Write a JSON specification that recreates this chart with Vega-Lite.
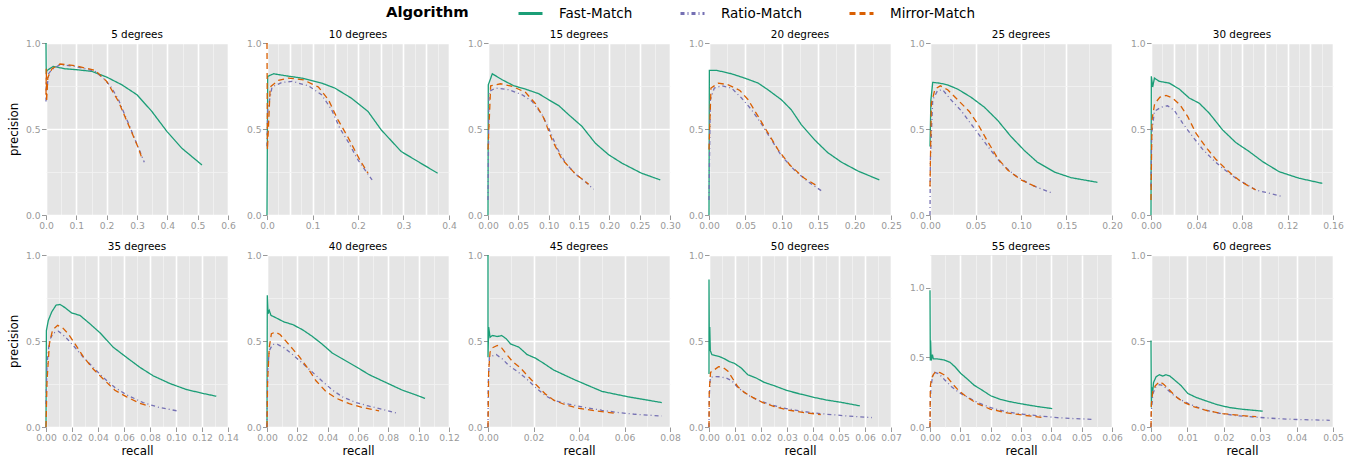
{
"$schema":"https://vega.github.io/schema/vega-lite/v6.json",
"padding":{"left":8,"top":0,"right":5,"bottom":5},
"data":{"values":[
{"deg":5,"alg":"Fast-Match","i":0,"recall":0,"precision":1},
{"deg":5,"alg":"Fast-Match","i":1,"recall":0.0005,"precision":0.87},
{"deg":5,"alg":"Fast-Match","i":2,"recall":0.001,"precision":0.82},
{"deg":5,"alg":"Fast-Match","i":3,"recall":0.003,"precision":0.84},
{"deg":5,"alg":"Fast-Match","i":4,"recall":0.024,"precision":0.864},
{"deg":5,"alg":"Fast-Match","i":5,"recall":0.063,"precision":0.85},
{"deg":5,"alg":"Fast-Match","i":6,"recall":0.1,"precision":0.845},
{"deg":5,"alg":"Fast-Match","i":7,"recall":0.151,"precision":0.835},
{"deg":5,"alg":"Fast-Match","i":8,"recall":0.2,"precision":0.802},
{"deg":5,"alg":"Fast-Match","i":9,"recall":0.25,"precision":0.757},
{"deg":5,"alg":"Fast-Match","i":10,"recall":0.3,"precision":0.699},
{"deg":5,"alg":"Fast-Match","i":11,"recall":0.349,"precision":0.602},
{"deg":5,"alg":"Fast-Match","i":12,"recall":0.399,"precision":0.485},
{"deg":5,"alg":"Fast-Match","i":13,"recall":0.448,"precision":0.388},
{"deg":5,"alg":"Fast-Match","i":14,"recall":0.514,"precision":0.291},
{"deg":5,"alg":"Ratio-Match","i":0,"recall":0,"precision":0.66},
{"deg":5,"alg":"Ratio-Match","i":1,"recall":0.001,"precision":0.8},
{"deg":5,"alg":"Ratio-Match","i":2,"recall":0.003,"precision":0.72},
{"deg":5,"alg":"Ratio-Match","i":3,"recall":0.008,"precision":0.82},
{"deg":5,"alg":"Ratio-Match","i":4,"recall":0.019,"precision":0.845},
{"deg":5,"alg":"Ratio-Match","i":5,"recall":0.046,"precision":0.874},
{"deg":5,"alg":"Ratio-Match","i":6,"recall":0.096,"precision":0.864},
{"deg":5,"alg":"Ratio-Match","i":7,"recall":0.162,"precision":0.835},
{"deg":5,"alg":"Ratio-Match","i":8,"recall":0.195,"precision":0.786},
{"deg":5,"alg":"Ratio-Match","i":9,"recall":0.217,"precision":0.738},
{"deg":5,"alg":"Ratio-Match","i":10,"recall":0.239,"precision":0.67},
{"deg":5,"alg":"Ratio-Match","i":11,"recall":0.267,"precision":0.553},
{"deg":5,"alg":"Ratio-Match","i":12,"recall":0.294,"precision":0.437},
{"deg":5,"alg":"Ratio-Match","i":13,"recall":0.324,"precision":0.307},
{"deg":5,"alg":"Mirror-Match","i":0,"recall":0,"precision":0.7},
{"deg":5,"alg":"Mirror-Match","i":1,"recall":0.001,"precision":0.85},
{"deg":5,"alg":"Mirror-Match","i":2,"recall":0.002,"precision":0.66},
{"deg":5,"alg":"Mirror-Match","i":3,"recall":0.006,"precision":0.8},
{"deg":5,"alg":"Mirror-Match","i":4,"recall":0.02,"precision":0.85},
{"deg":5,"alg":"Mirror-Match","i":5,"recall":0.046,"precision":0.878},
{"deg":5,"alg":"Mirror-Match","i":6,"recall":0.096,"precision":0.868},
{"deg":5,"alg":"Mirror-Match","i":7,"recall":0.162,"precision":0.841},
{"deg":5,"alg":"Mirror-Match","i":8,"recall":0.2,"precision":0.777},
{"deg":5,"alg":"Mirror-Match","i":9,"recall":0.239,"precision":0.66},
{"deg":5,"alg":"Mirror-Match","i":10,"recall":0.272,"precision":0.524},
{"deg":5,"alg":"Mirror-Match","i":11,"recall":0.305,"precision":0.388},
{"deg":5,"alg":"Mirror-Match","i":12,"recall":0.318,"precision":0.32},
{"deg":10,"alg":"Fast-Match","i":0,"recall":0,"precision":0},
{"deg":10,"alg":"Fast-Match","i":1,"recall":0.0015,"precision":0.806},
{"deg":10,"alg":"Fast-Match","i":2,"recall":0.0145,"precision":0.821},
{"deg":10,"alg":"Fast-Match","i":3,"recall":0.04,"precision":0.81},
{"deg":10,"alg":"Fast-Match","i":4,"recall":0.076,"precision":0.796},
{"deg":10,"alg":"Fast-Match","i":5,"recall":0.12,"precision":0.767},
{"deg":10,"alg":"Fast-Match","i":6,"recall":0.149,"precision":0.738},
{"deg":10,"alg":"Fast-Match","i":7,"recall":0.185,"precision":0.68},
{"deg":10,"alg":"Fast-Match","i":8,"recall":0.222,"precision":0.602},
{"deg":10,"alg":"Fast-Match","i":9,"recall":0.251,"precision":0.495},
{"deg":10,"alg":"Fast-Match","i":10,"recall":0.295,"precision":0.369},
{"deg":10,"alg":"Fast-Match","i":11,"recall":0.338,"precision":0.301},
{"deg":10,"alg":"Fast-Match","i":12,"recall":0.375,"precision":0.243},
{"deg":10,"alg":"Ratio-Match","i":0,"recall":0,"precision":0.4},
{"deg":10,"alg":"Ratio-Match","i":1,"recall":0.0015,"precision":0.61},
{"deg":10,"alg":"Ratio-Match","i":2,"recall":0.011,"precision":0.744},
{"deg":10,"alg":"Ratio-Match","i":3,"recall":0.033,"precision":0.771},
{"deg":10,"alg":"Ratio-Match","i":4,"recall":0.055,"precision":0.777},
{"deg":10,"alg":"Ratio-Match","i":5,"recall":0.091,"precision":0.751},
{"deg":10,"alg":"Ratio-Match","i":6,"recall":0.12,"precision":0.699},
{"deg":10,"alg":"Ratio-Match","i":7,"recall":0.142,"precision":0.612},
{"deg":10,"alg":"Ratio-Match","i":8,"recall":0.16,"precision":0.505},
{"deg":10,"alg":"Ratio-Match","i":9,"recall":0.178,"precision":0.427},
{"deg":10,"alg":"Ratio-Match","i":10,"recall":0.2,"precision":0.32},
{"deg":10,"alg":"Ratio-Match","i":11,"recall":0.231,"precision":0.204},
{"deg":10,"alg":"Mirror-Match","i":0,"recall":0,"precision":1},
{"deg":10,"alg":"Mirror-Match","i":1,"recall":0.001,"precision":0.379},
{"deg":10,"alg":"Mirror-Match","i":2,"recall":0.007,"precision":0.744},
{"deg":10,"alg":"Mirror-Match","i":3,"recall":0.025,"precision":0.783},
{"deg":10,"alg":"Mirror-Match","i":4,"recall":0.047,"precision":0.796},
{"deg":10,"alg":"Mirror-Match","i":5,"recall":0.08,"precision":0.786},
{"deg":10,"alg":"Mirror-Match","i":6,"recall":0.113,"precision":0.744},
{"deg":10,"alg":"Mirror-Match","i":7,"recall":0.135,"precision":0.67},
{"deg":10,"alg":"Mirror-Match","i":8,"recall":0.156,"precision":0.553},
{"deg":10,"alg":"Mirror-Match","i":9,"recall":0.178,"precision":0.452},
{"deg":10,"alg":"Mirror-Match","i":10,"recall":0.204,"precision":0.32},
{"deg":10,"alg":"Mirror-Match","i":11,"recall":0.222,"precision":0.243},
{"deg":15,"alg":"Fast-Match","i":0,"recall":0,"precision":0},
{"deg":15,"alg":"Fast-Match","i":1,"recall":0.0005,"precision":0.757},
{"deg":15,"alg":"Fast-Match","i":2,"recall":0.0071,"precision":0.821},
{"deg":15,"alg":"Fast-Match","i":3,"recall":0.0235,"precision":0.786},
{"deg":15,"alg":"Fast-Match","i":4,"recall":0.0427,"precision":0.751},
{"deg":15,"alg":"Fast-Match","i":5,"recall":0.0618,"precision":0.732},
{"deg":15,"alg":"Fast-Match","i":6,"recall":0.0837,"precision":0.705},
{"deg":15,"alg":"Fast-Match","i":7,"recall":0.1,"precision":0.67},
{"deg":15,"alg":"Fast-Match","i":8,"recall":0.117,"precision":0.635},
{"deg":15,"alg":"Fast-Match","i":9,"recall":0.133,"precision":0.583},
{"deg":15,"alg":"Fast-Match","i":10,"recall":0.155,"precision":0.515},
{"deg":15,"alg":"Fast-Match","i":11,"recall":0.177,"precision":0.417},
{"deg":15,"alg":"Fast-Match","i":12,"recall":0.199,"precision":0.35},
{"deg":15,"alg":"Fast-Match","i":13,"recall":0.221,"precision":0.301},
{"deg":15,"alg":"Fast-Match","i":14,"recall":0.253,"precision":0.243},
{"deg":15,"alg":"Fast-Match","i":15,"recall":0.284,"precision":0.204},
{"deg":15,"alg":"Ratio-Match","i":0,"recall":0,"precision":0.087},
{"deg":15,"alg":"Ratio-Match","i":1,"recall":0.0016,"precision":0.718},
{"deg":15,"alg":"Ratio-Match","i":2,"recall":0.0126,"precision":0.738},
{"deg":15,"alg":"Ratio-Match","i":3,"recall":0.0345,"precision":0.728},
{"deg":15,"alg":"Ratio-Match","i":4,"recall":0.0564,"precision":0.699},
{"deg":15,"alg":"Ratio-Match","i":5,"recall":0.0728,"precision":0.66},
{"deg":15,"alg":"Ratio-Match","i":6,"recall":0.0892,"precision":0.583},
{"deg":15,"alg":"Ratio-Match","i":7,"recall":0.1,"precision":0.505},
{"deg":15,"alg":"Ratio-Match","i":8,"recall":0.114,"precision":0.388},
{"deg":15,"alg":"Ratio-Match","i":9,"recall":0.128,"precision":0.301},
{"deg":15,"alg":"Ratio-Match","i":10,"recall":0.144,"precision":0.239},
{"deg":15,"alg":"Ratio-Match","i":11,"recall":0.16,"precision":0.194},
{"deg":15,"alg":"Ratio-Match","i":12,"recall":0.174,"precision":0.15},
{"deg":15,"alg":"Mirror-Match","i":0,"recall":0,"precision":0.38},
{"deg":15,"alg":"Mirror-Match","i":1,"recall":0.0044,"precision":0.751},
{"deg":15,"alg":"Mirror-Match","i":2,"recall":0.0208,"precision":0.763},
{"deg":15,"alg":"Mirror-Match","i":3,"recall":0.04,"precision":0.748},
{"deg":15,"alg":"Mirror-Match","i":4,"recall":0.0618,"precision":0.713},
{"deg":15,"alg":"Mirror-Match","i":5,"recall":0.0783,"precision":0.647},
{"deg":15,"alg":"Mirror-Match","i":6,"recall":0.092,"precision":0.563},
{"deg":15,"alg":"Mirror-Match","i":7,"recall":0.1056,"precision":0.437},
{"deg":15,"alg":"Mirror-Match","i":8,"recall":0.122,"precision":0.324},
{"deg":15,"alg":"Mirror-Match","i":9,"recall":0.144,"precision":0.239},
{"deg":15,"alg":"Mirror-Match","i":10,"recall":0.166,"precision":0.179},
{"deg":20,"alg":"Fast-Match","i":0,"recall":0,"precision":0},
{"deg":20,"alg":"Fast-Match","i":1,"recall":0.0005,"precision":0.841},
{"deg":20,"alg":"Fast-Match","i":2,"recall":0.0105,"precision":0.841},
{"deg":20,"alg":"Fast-Match","i":3,"recall":0.031,"precision":0.821},
{"deg":20,"alg":"Fast-Match","i":4,"recall":0.049,"precision":0.796},
{"deg":20,"alg":"Fast-Match","i":5,"recall":0.0675,"precision":0.767},
{"deg":20,"alg":"Fast-Match","i":6,"recall":0.081,"precision":0.728},
{"deg":20,"alg":"Fast-Match","i":7,"recall":0.0995,"precision":0.67},
{"deg":20,"alg":"Fast-Match","i":8,"recall":0.113,"precision":0.612},
{"deg":20,"alg":"Fast-Match","i":9,"recall":0.127,"precision":0.524},
{"deg":20,"alg":"Fast-Match","i":10,"recall":0.145,"precision":0.437},
{"deg":20,"alg":"Fast-Match","i":11,"recall":0.163,"precision":0.363},
{"deg":20,"alg":"Fast-Match","i":12,"recall":0.182,"precision":0.307},
{"deg":20,"alg":"Fast-Match","i":13,"recall":0.205,"precision":0.255},
{"deg":20,"alg":"Fast-Match","i":14,"recall":0.234,"precision":0.204},
{"deg":20,"alg":"Ratio-Match","i":0,"recall":0,"precision":0.087},
{"deg":20,"alg":"Ratio-Match","i":1,"recall":0.0018,"precision":0.67},
{"deg":20,"alg":"Ratio-Match","i":2,"recall":0.0073,"precision":0.738},
{"deg":20,"alg":"Ratio-Match","i":3,"recall":0.0173,"precision":0.751},
{"deg":20,"alg":"Ratio-Match","i":4,"recall":0.031,"precision":0.738},
{"deg":20,"alg":"Ratio-Match","i":5,"recall":0.0447,"precision":0.68},
{"deg":20,"alg":"Ratio-Match","i":6,"recall":0.0584,"precision":0.612},
{"deg":20,"alg":"Ratio-Match","i":7,"recall":0.072,"precision":0.53},
{"deg":20,"alg":"Ratio-Match","i":8,"recall":0.0858,"precision":0.437},
{"deg":20,"alg":"Ratio-Match","i":9,"recall":0.0995,"precision":0.344},
{"deg":20,"alg":"Ratio-Match","i":10,"recall":0.118,"precision":0.258},
{"deg":20,"alg":"Ratio-Match","i":11,"recall":0.136,"precision":0.194},
{"deg":20,"alg":"Ratio-Match","i":12,"recall":0.156,"precision":0.136},
{"deg":20,"alg":"Mirror-Match","i":0,"recall":0,"precision":0.38},
{"deg":20,"alg":"Mirror-Match","i":1,"recall":0.0027,"precision":0.738},
{"deg":20,"alg":"Mirror-Match","i":2,"recall":0.0128,"precision":0.767},
{"deg":20,"alg":"Mirror-Match","i":3,"recall":0.0265,"precision":0.757},
{"deg":20,"alg":"Mirror-Match","i":4,"recall":0.0424,"precision":0.724},
{"deg":20,"alg":"Mirror-Match","i":5,"recall":0.0538,"precision":0.67},
{"deg":20,"alg":"Mirror-Match","i":6,"recall":0.0675,"precision":0.573},
{"deg":20,"alg":"Mirror-Match","i":7,"recall":0.0812,"precision":0.476},
{"deg":20,"alg":"Mirror-Match","i":8,"recall":0.095,"precision":0.379},
{"deg":20,"alg":"Mirror-Match","i":9,"recall":0.111,"precision":0.291},
{"deg":20,"alg":"Mirror-Match","i":10,"recall":0.131,"precision":0.214},
{"deg":20,"alg":"Mirror-Match","i":11,"recall":0.15,"precision":0.165},
{"deg":25,"alg":"Fast-Match","i":0,"recall":0,"precision":0.398},
{"deg":25,"alg":"Fast-Match","i":1,"recall":0.001,"precision":0.67},
{"deg":25,"alg":"Fast-Match","i":2,"recall":0.003,"precision":0.771},
{"deg":25,"alg":"Fast-Match","i":3,"recall":0.0103,"precision":0.767},
{"deg":25,"alg":"Fast-Match","i":4,"recall":0.019,"precision":0.757},
{"deg":25,"alg":"Fast-Match","i":5,"recall":0.0304,"precision":0.732},
{"deg":25,"alg":"Fast-Match","i":6,"recall":0.045,"precision":0.685},
{"deg":25,"alg":"Fast-Match","i":7,"recall":0.0597,"precision":0.627},
{"deg":25,"alg":"Fast-Match","i":8,"recall":0.0744,"precision":0.55},
{"deg":25,"alg":"Fast-Match","i":9,"recall":0.089,"precision":0.456},
{"deg":25,"alg":"Fast-Match","i":10,"recall":0.1037,"precision":0.375},
{"deg":25,"alg":"Fast-Match","i":11,"recall":0.118,"precision":0.307},
{"deg":25,"alg":"Fast-Match","i":12,"recall":0.137,"precision":0.249},
{"deg":25,"alg":"Fast-Match","i":13,"recall":0.155,"precision":0.217},
{"deg":25,"alg":"Fast-Match","i":14,"recall":0.184,"precision":0.19},
{"deg":25,"alg":"Ratio-Match","i":0,"recall":0,"precision":0},
{"deg":25,"alg":"Ratio-Match","i":1,"recall":0.0004,"precision":0.32},
{"deg":25,"alg":"Ratio-Match","i":2,"recall":0.003,"precision":0.67},
{"deg":25,"alg":"Ratio-Match","i":3,"recall":0.0084,"precision":0.724},
{"deg":25,"alg":"Ratio-Match","i":4,"recall":0.0139,"precision":0.728},
{"deg":25,"alg":"Ratio-Match","i":5,"recall":0.023,"precision":0.67},
{"deg":25,"alg":"Ratio-Match","i":6,"recall":0.034,"precision":0.608},
{"deg":25,"alg":"Ratio-Match","i":7,"recall":0.045,"precision":0.53},
{"deg":25,"alg":"Ratio-Match","i":8,"recall":0.056,"precision":0.452},
{"deg":25,"alg":"Ratio-Match","i":9,"recall":0.067,"precision":0.375},
{"deg":25,"alg":"Ratio-Match","i":10,"recall":0.078,"precision":0.301},
{"deg":25,"alg":"Ratio-Match","i":11,"recall":0.0927,"precision":0.233},
{"deg":25,"alg":"Ratio-Match","i":12,"recall":0.111,"precision":0.175},
{"deg":25,"alg":"Ratio-Match","i":13,"recall":0.135,"precision":0.126},
{"deg":25,"alg":"Mirror-Match","i":0,"recall":0,"precision":0.165},
{"deg":25,"alg":"Mirror-Match","i":1,"recall":0.0015,"precision":0.65},
{"deg":25,"alg":"Mirror-Match","i":2,"recall":0.0055,"precision":0.732},
{"deg":25,"alg":"Mirror-Match","i":3,"recall":0.0114,"precision":0.751},
{"deg":25,"alg":"Mirror-Match","i":4,"recall":0.0194,"precision":0.728},
{"deg":25,"alg":"Mirror-Match","i":5,"recall":0.0304,"precision":0.67},
{"deg":25,"alg":"Mirror-Match","i":6,"recall":0.0432,"precision":0.602},
{"deg":25,"alg":"Mirror-Match","i":7,"recall":0.0524,"precision":0.53},
{"deg":25,"alg":"Mirror-Match","i":8,"recall":0.0634,"precision":0.427},
{"deg":25,"alg":"Mirror-Match","i":9,"recall":0.0744,"precision":0.33},
{"deg":25,"alg":"Mirror-Match","i":10,"recall":0.0853,"precision":0.262},
{"deg":25,"alg":"Mirror-Match","i":11,"recall":0.1,"precision":0.204},
{"deg":25,"alg":"Mirror-Match","i":12,"recall":0.12,"precision":0.155},
{"deg":30,"alg":"Fast-Match","i":0,"recall":0,"precision":0},
{"deg":30,"alg":"Fast-Match","i":1,"recall":0.0003,"precision":0.806},
{"deg":30,"alg":"Fast-Match","i":2,"recall":0.0015,"precision":0.744},
{"deg":30,"alg":"Fast-Match","i":3,"recall":0.003,"precision":0.796},
{"deg":30,"alg":"Fast-Match","i":4,"recall":0.0073,"precision":0.777},
{"deg":30,"alg":"Fast-Match","i":5,"recall":0.016,"precision":0.767},
{"deg":30,"alg":"Fast-Match","i":6,"recall":0.0249,"precision":0.732},
{"deg":30,"alg":"Fast-Match","i":7,"recall":0.0336,"precision":0.68},
{"deg":30,"alg":"Fast-Match","i":8,"recall":0.0424,"precision":0.65},
{"deg":30,"alg":"Fast-Match","i":9,"recall":0.0512,"precision":0.592},
{"deg":30,"alg":"Fast-Match","i":10,"recall":0.0629,"precision":0.495},
{"deg":30,"alg":"Fast-Match","i":11,"recall":0.0746,"precision":0.421},
{"deg":30,"alg":"Fast-Match","i":12,"recall":0.0863,"precision":0.369},
{"deg":30,"alg":"Fast-Match","i":13,"recall":0.098,"precision":0.311},
{"deg":30,"alg":"Fast-Match","i":14,"recall":0.1126,"precision":0.252},
{"deg":30,"alg":"Fast-Match","i":15,"recall":0.13,"precision":0.214},
{"deg":30,"alg":"Fast-Match","i":16,"recall":0.1506,"precision":0.184},
{"deg":30,"alg":"Ratio-Match","i":0,"recall":0,"precision":0.165},
{"deg":30,"alg":"Ratio-Match","i":1,"recall":0.0006,"precision":0.476},
{"deg":30,"alg":"Ratio-Match","i":2,"recall":0.003,"precision":0.602},
{"deg":30,"alg":"Ratio-Match","i":3,"recall":0.0088,"precision":0.627},
{"deg":30,"alg":"Ratio-Match","i":4,"recall":0.0146,"precision":0.635},
{"deg":30,"alg":"Ratio-Match","i":5,"recall":0.0205,"precision":0.608},
{"deg":30,"alg":"Ratio-Match","i":6,"recall":0.0278,"precision":0.534},
{"deg":30,"alg":"Ratio-Match","i":7,"recall":0.0366,"precision":0.456},
{"deg":30,"alg":"Ratio-Match","i":8,"recall":0.0453,"precision":0.383},
{"deg":30,"alg":"Ratio-Match","i":9,"recall":0.0541,"precision":0.324},
{"deg":30,"alg":"Ratio-Match","i":10,"recall":0.0629,"precision":0.272},
{"deg":30,"alg":"Ratio-Match","i":11,"recall":0.0746,"precision":0.214},
{"deg":30,"alg":"Ratio-Match","i":12,"recall":0.092,"precision":0.146},
{"deg":30,"alg":"Ratio-Match","i":13,"recall":0.1155,"precision":0.107},
{"deg":30,"alg":"Mirror-Match","i":0,"recall":0,"precision":0.087},
{"deg":30,"alg":"Mirror-Match","i":1,"recall":0.0009,"precision":0.553},
{"deg":30,"alg":"Mirror-Match","i":2,"recall":0.0032,"precision":0.647},
{"deg":30,"alg":"Mirror-Match","i":3,"recall":0.0079,"precision":0.685},
{"deg":30,"alg":"Mirror-Match","i":4,"recall":0.0132,"precision":0.695},
{"deg":30,"alg":"Mirror-Match","i":5,"recall":0.019,"precision":0.68},
{"deg":30,"alg":"Mirror-Match","i":6,"recall":0.0254,"precision":0.641},
{"deg":30,"alg":"Mirror-Match","i":7,"recall":0.0322,"precision":0.573},
{"deg":30,"alg":"Mirror-Match","i":8,"recall":0.0395,"precision":0.476},
{"deg":30,"alg":"Mirror-Match","i":9,"recall":0.0483,"precision":0.394},
{"deg":30,"alg":"Mirror-Match","i":10,"recall":0.057,"precision":0.324},
{"deg":30,"alg":"Mirror-Match","i":11,"recall":0.0673,"precision":0.258},
{"deg":30,"alg":"Mirror-Match","i":12,"recall":0.079,"precision":0.194},
{"deg":30,"alg":"Mirror-Match","i":13,"recall":0.092,"precision":0.146},
{"deg":35,"alg":"Fast-Match","i":0,"recall":0,"precision":0},
{"deg":35,"alg":"Fast-Match","i":1,"recall":0.0003,"precision":0.561},
{"deg":35,"alg":"Fast-Match","i":2,"recall":0.0018,"precision":0.62},
{"deg":35,"alg":"Fast-Match","i":3,"recall":0.0044,"precision":0.669},
{"deg":35,"alg":"Fast-Match","i":4,"recall":0.0077,"precision":0.708},
{"deg":35,"alg":"Fast-Match","i":5,"recall":0.0107,"precision":0.713},
{"deg":35,"alg":"Fast-Match","i":6,"recall":0.0146,"precision":0.694},
{"deg":35,"alg":"Fast-Match","i":7,"recall":0.0197,"precision":0.663},
{"deg":35,"alg":"Fast-Match","i":8,"recall":0.0261,"precision":0.649},
{"deg":35,"alg":"Fast-Match","i":9,"recall":0.0338,"precision":0.6},
{"deg":35,"alg":"Fast-Match","i":10,"recall":0.0415,"precision":0.548},
{"deg":35,"alg":"Fast-Match","i":11,"recall":0.0517,"precision":0.464},
{"deg":35,"alg":"Fast-Match","i":12,"recall":0.0619,"precision":0.405},
{"deg":35,"alg":"Fast-Match","i":13,"recall":0.0722,"precision":0.347},
{"deg":35,"alg":"Fast-Match","i":14,"recall":0.0824,"precision":0.298},
{"deg":35,"alg":"Fast-Match","i":15,"recall":0.0952,"precision":0.253},
{"deg":35,"alg":"Fast-Match","i":16,"recall":0.108,"precision":0.218},
{"deg":35,"alg":"Fast-Match","i":17,"recall":0.1208,"precision":0.195},
{"deg":35,"alg":"Fast-Match","i":18,"recall":0.131,"precision":0.179},
{"deg":35,"alg":"Ratio-Match","i":0,"recall":0,"precision":0.133},
{"deg":35,"alg":"Ratio-Match","i":1,"recall":0.0008,"precision":0.366},
{"deg":35,"alg":"Ratio-Match","i":2,"recall":0.0026,"precision":0.503},
{"deg":35,"alg":"Ratio-Match","i":3,"recall":0.0056,"precision":0.546},
{"deg":35,"alg":"Ratio-Match","i":4,"recall":0.0095,"precision":0.557},
{"deg":35,"alg":"Ratio-Match","i":5,"recall":0.0146,"precision":0.526},
{"deg":35,"alg":"Ratio-Match","i":6,"recall":0.021,"precision":0.474},
{"deg":35,"alg":"Ratio-Match","i":7,"recall":0.0287,"precision":0.405},
{"deg":35,"alg":"Ratio-Match","i":8,"recall":0.0363,"precision":0.347},
{"deg":35,"alg":"Ratio-Match","i":9,"recall":0.044,"precision":0.288},
{"deg":35,"alg":"Ratio-Match","i":10,"recall":0.053,"precision":0.23},
{"deg":35,"alg":"Ratio-Match","i":11,"recall":0.062,"precision":0.187},
{"deg":35,"alg":"Ratio-Match","i":12,"recall":0.0747,"precision":0.142},
{"deg":35,"alg":"Ratio-Match","i":13,"recall":0.0875,"precision":0.113},
{"deg":35,"alg":"Ratio-Match","i":14,"recall":0.1008,"precision":0.094},
{"deg":35,"alg":"Mirror-Match","i":0,"recall":0,"precision":0},
{"deg":35,"alg":"Mirror-Match","i":1,"recall":0.0008,"precision":0.269},
{"deg":35,"alg":"Mirror-Match","i":2,"recall":0.0026,"precision":0.483},
{"deg":35,"alg":"Mirror-Match","i":3,"recall":0.0051,"precision":0.565},
{"deg":35,"alg":"Mirror-Match","i":4,"recall":0.009,"precision":0.591},
{"deg":35,"alg":"Mirror-Match","i":5,"recall":0.0128,"precision":0.577},
{"deg":35,"alg":"Mirror-Match","i":6,"recall":0.0171,"precision":0.542},
{"deg":35,"alg":"Mirror-Match","i":7,"recall":0.0223,"precision":0.483},
{"deg":35,"alg":"Mirror-Match","i":8,"recall":0.0287,"precision":0.409},
{"deg":35,"alg":"Mirror-Match","i":9,"recall":0.0363,"precision":0.337},
{"deg":35,"alg":"Mirror-Match","i":10,"recall":0.044,"precision":0.279},
{"deg":35,"alg":"Mirror-Match","i":11,"recall":0.053,"precision":0.214},
{"deg":35,"alg":"Mirror-Match","i":12,"recall":0.062,"precision":0.175},
{"deg":35,"alg":"Mirror-Match","i":13,"recall":0.0722,"precision":0.138},
{"deg":35,"alg":"Mirror-Match","i":14,"recall":0.0799,"precision":0.119},
{"deg":40,"alg":"Fast-Match","i":0,"recall":0,"precision":0},
{"deg":40,"alg":"Fast-Match","i":1,"recall":0.0002,"precision":0.766},
{"deg":40,"alg":"Fast-Match","i":2,"recall":0.0007,"precision":0.659},
{"deg":40,"alg":"Fast-Match","i":3,"recall":0.0015,"precision":0.678},
{"deg":40,"alg":"Fast-Match","i":4,"recall":0.0026,"precision":0.649},
{"deg":40,"alg":"Fast-Match","i":5,"recall":0.0059,"precision":0.635},
{"deg":40,"alg":"Fast-Match","i":6,"recall":0.0114,"precision":0.61},
{"deg":40,"alg":"Fast-Match","i":7,"recall":0.0169,"precision":0.596},
{"deg":40,"alg":"Fast-Match","i":8,"recall":0.0235,"precision":0.565},
{"deg":40,"alg":"Fast-Match","i":9,"recall":0.03,"precision":0.526},
{"deg":40,"alg":"Fast-Match","i":10,"recall":0.0366,"precision":0.48},
{"deg":40,"alg":"Fast-Match","i":11,"recall":0.0432,"precision":0.429},
{"deg":40,"alg":"Fast-Match","i":12,"recall":0.0498,"precision":0.396},
{"deg":40,"alg":"Fast-Match","i":13,"recall":0.0586,"precision":0.351},
{"deg":40,"alg":"Fast-Match","i":14,"recall":0.0674,"precision":0.304},
{"deg":40,"alg":"Fast-Match","i":15,"recall":0.0783,"precision":0.259},
{"deg":40,"alg":"Fast-Match","i":16,"recall":0.0893,"precision":0.214},
{"deg":40,"alg":"Fast-Match","i":17,"recall":0.098,"precision":0.187},
{"deg":40,"alg":"Fast-Match","i":18,"recall":0.1042,"precision":0.166},
{"deg":40,"alg":"Ratio-Match","i":0,"recall":0,"precision":0},
{"deg":40,"alg":"Ratio-Match","i":1,"recall":0.0004,"precision":0.327},
{"deg":40,"alg":"Ratio-Match","i":2,"recall":0.0015,"precision":0.444},
{"deg":40,"alg":"Ratio-Match","i":3,"recall":0.0037,"precision":0.48},
{"deg":40,"alg":"Ratio-Match","i":4,"recall":0.007,"precision":0.48},
{"deg":40,"alg":"Ratio-Match","i":5,"recall":0.0114,"precision":0.46},
{"deg":40,"alg":"Ratio-Match","i":6,"recall":0.0169,"precision":0.421},
{"deg":40,"alg":"Ratio-Match","i":7,"recall":0.0235,"precision":0.37},
{"deg":40,"alg":"Ratio-Match","i":8,"recall":0.03,"precision":0.318},
{"deg":40,"alg":"Ratio-Match","i":9,"recall":0.0366,"precision":0.265},
{"deg":40,"alg":"Ratio-Match","i":10,"recall":0.0432,"precision":0.214},
{"deg":40,"alg":"Ratio-Match","i":11,"recall":0.0498,"precision":0.175},
{"deg":40,"alg":"Ratio-Match","i":12,"recall":0.0586,"precision":0.142},
{"deg":40,"alg":"Ratio-Match","i":13,"recall":0.0674,"precision":0.121},
{"deg":40,"alg":"Ratio-Match","i":14,"recall":0.0761,"precision":0.103},
{"deg":40,"alg":"Ratio-Match","i":15,"recall":0.086,"precision":0.08},
{"deg":40,"alg":"Mirror-Match","i":0,"recall":0,"precision":0},
{"deg":40,"alg":"Mirror-Match","i":1,"recall":0.0004,"precision":0.269},
{"deg":40,"alg":"Mirror-Match","i":2,"recall":0.0015,"precision":0.464},
{"deg":40,"alg":"Mirror-Match","i":3,"recall":0.0029,"precision":0.542},
{"deg":40,"alg":"Mirror-Match","i":4,"recall":0.0055,"precision":0.552},
{"deg":40,"alg":"Mirror-Match","i":5,"recall":0.0086,"precision":0.538},
{"deg":40,"alg":"Mirror-Match","i":6,"recall":0.0125,"precision":0.499},
{"deg":40,"alg":"Mirror-Match","i":7,"recall":0.0169,"precision":0.454},
{"deg":40,"alg":"Mirror-Match","i":8,"recall":0.0213,"precision":0.409},
{"deg":40,"alg":"Mirror-Match","i":9,"recall":0.0268,"precision":0.343},
{"deg":40,"alg":"Mirror-Match","i":10,"recall":0.0323,"precision":0.269},
{"deg":40,"alg":"Mirror-Match","i":11,"recall":0.0388,"precision":0.207},
{"deg":40,"alg":"Mirror-Match","i":12,"recall":0.0454,"precision":0.168},
{"deg":40,"alg":"Mirror-Match","i":13,"recall":0.0542,"precision":0.136},
{"deg":40,"alg":"Mirror-Match","i":14,"recall":0.063,"precision":0.113},
{"deg":40,"alg":"Mirror-Match","i":15,"recall":0.0739,"precision":0.094},
{"deg":45,"alg":"Fast-Match","i":0,"recall":0,"precision":1},
{"deg":45,"alg":"Fast-Match","i":1,"recall":0,"precision":0.405},
{"deg":45,"alg":"Fast-Match","i":2,"recall":0.0003,"precision":0.581},
{"deg":45,"alg":"Fast-Match","i":3,"recall":0.0009,"precision":0.522},
{"deg":45,"alg":"Fast-Match","i":4,"recall":0.0019,"precision":0.532},
{"deg":45,"alg":"Fast-Match","i":5,"recall":0.0041,"precision":0.526},
{"deg":45,"alg":"Fast-Match","i":6,"recall":0.006,"precision":0.532},
{"deg":45,"alg":"Fast-Match","i":7,"recall":0.008,"precision":0.513},
{"deg":45,"alg":"Fast-Match","i":8,"recall":0.0099,"precision":0.483},
{"deg":45,"alg":"Fast-Match","i":9,"recall":0.0136,"precision":0.464},
{"deg":45,"alg":"Fast-Match","i":10,"recall":0.0172,"precision":0.421},
{"deg":45,"alg":"Fast-Match","i":11,"recall":0.0209,"precision":0.4},
{"deg":45,"alg":"Fast-Match","i":12,"recall":0.0245,"precision":0.37},
{"deg":45,"alg":"Fast-Match","i":13,"recall":0.0289,"precision":0.331},
{"deg":45,"alg":"Fast-Match","i":14,"recall":0.0333,"precision":0.304},
{"deg":45,"alg":"Fast-Match","i":15,"recall":0.0384,"precision":0.273},
{"deg":45,"alg":"Fast-Match","i":16,"recall":0.0442,"precision":0.24},
{"deg":45,"alg":"Fast-Match","i":17,"recall":0.0501,"precision":0.207},
{"deg":45,"alg":"Fast-Match","i":18,"recall":0.0559,"precision":0.191},
{"deg":45,"alg":"Fast-Match","i":19,"recall":0.0618,"precision":0.175},
{"deg":45,"alg":"Fast-Match","i":20,"recall":0.0676,"precision":0.162},
{"deg":45,"alg":"Fast-Match","i":21,"recall":0.0764,"precision":0.142},
{"deg":45,"alg":"Ratio-Match","i":0,"recall":0,"precision":0},
{"deg":45,"alg":"Ratio-Match","i":1,"recall":0.0001,"precision":0.25},
{"deg":45,"alg":"Ratio-Match","i":2,"recall":0.0006,"precision":0.405},
{"deg":45,"alg":"Ratio-Match","i":3,"recall":0.0019,"precision":0.413},
{"deg":45,"alg":"Ratio-Match","i":4,"recall":0.0036,"precision":0.421},
{"deg":45,"alg":"Ratio-Match","i":5,"recall":0.0063,"precision":0.396},
{"deg":45,"alg":"Ratio-Match","i":6,"recall":0.0092,"precision":0.357},
{"deg":45,"alg":"Ratio-Match","i":7,"recall":0.0128,"precision":0.324},
{"deg":45,"alg":"Ratio-Match","i":8,"recall":0.0165,"precision":0.285},
{"deg":45,"alg":"Ratio-Match","i":9,"recall":0.0209,"precision":0.23},
{"deg":45,"alg":"Ratio-Match","i":10,"recall":0.0253,"precision":0.181},
{"deg":45,"alg":"Ratio-Match","i":11,"recall":0.0296,"precision":0.152},
{"deg":45,"alg":"Ratio-Match","i":12,"recall":0.0355,"precision":0.133},
{"deg":45,"alg":"Ratio-Match","i":13,"recall":0.0428,"precision":0.113},
{"deg":45,"alg":"Ratio-Match","i":14,"recall":0.0501,"precision":0.097},
{"deg":45,"alg":"Ratio-Match","i":15,"recall":0.0574,"precision":0.084},
{"deg":45,"alg":"Ratio-Match","i":16,"recall":0.0647,"precision":0.074},
{"deg":45,"alg":"Ratio-Match","i":17,"recall":0.0764,"precision":0.064},
{"deg":45,"alg":"Mirror-Match","i":0,"recall":0,"precision":0},
{"deg":45,"alg":"Mirror-Match","i":1,"recall":0.0003,"precision":0.327},
{"deg":45,"alg":"Mirror-Match","i":2,"recall":0.0009,"precision":0.435},
{"deg":45,"alg":"Mirror-Match","i":3,"recall":0.0019,"precision":0.46},
{"deg":45,"alg":"Mirror-Match","i":4,"recall":0.0041,"precision":0.474},
{"deg":45,"alg":"Mirror-Match","i":5,"recall":0.006,"precision":0.46},
{"deg":45,"alg":"Mirror-Match","i":6,"recall":0.008,"precision":0.425},
{"deg":45,"alg":"Mirror-Match","i":7,"recall":0.0107,"precision":0.382},
{"deg":45,"alg":"Mirror-Match","i":8,"recall":0.0143,"precision":0.343},
{"deg":45,"alg":"Mirror-Match","i":9,"recall":0.018,"precision":0.289},
{"deg":45,"alg":"Mirror-Match","i":10,"recall":0.0216,"precision":0.24},
{"deg":45,"alg":"Mirror-Match","i":11,"recall":0.0253,"precision":0.191},
{"deg":45,"alg":"Mirror-Match","i":12,"recall":0.0289,"precision":0.156},
{"deg":45,"alg":"Mirror-Match","i":13,"recall":0.034,"precision":0.129},
{"deg":45,"alg":"Mirror-Match","i":14,"recall":0.0399,"precision":0.109},
{"deg":45,"alg":"Mirror-Match","i":15,"recall":0.0472,"precision":0.094},
{"deg":45,"alg":"Mirror-Match","i":16,"recall":0.0559,"precision":0.08},
{"deg":50,"alg":"Fast-Match","i":0,"recall":0,"precision":0.308},
{"deg":50,"alg":"Fast-Match","i":1,"recall":0,"precision":0.858},
{"deg":50,"alg":"Fast-Match","i":2,"recall":0.0001,"precision":0.561},
{"deg":50,"alg":"Fast-Match","i":3,"recall":0.0003,"precision":0.581},
{"deg":50,"alg":"Fast-Match","i":4,"recall":0.0005,"precision":0.444},
{"deg":50,"alg":"Fast-Match","i":5,"recall":0.0011,"precision":0.421},
{"deg":50,"alg":"Fast-Match","i":6,"recall":0.0024,"precision":0.415},
{"deg":50,"alg":"Fast-Match","i":7,"recall":0.0041,"precision":0.409},
{"deg":50,"alg":"Fast-Match","i":8,"recall":0.006,"precision":0.396},
{"deg":50,"alg":"Fast-Match","i":9,"recall":0.0079,"precision":0.38},
{"deg":50,"alg":"Fast-Match","i":10,"recall":0.0098,"precision":0.37},
{"deg":50,"alg":"Fast-Match","i":11,"recall":0.0124,"precision":0.343},
{"deg":50,"alg":"Fast-Match","i":12,"recall":0.0149,"precision":0.304},
{"deg":50,"alg":"Fast-Match","i":13,"recall":0.0181,"precision":0.285},
{"deg":50,"alg":"Fast-Match","i":14,"recall":0.0213,"precision":0.259},
{"deg":50,"alg":"Fast-Match","i":15,"recall":0.0251,"precision":0.24},
{"deg":50,"alg":"Fast-Match","i":16,"recall":0.0302,"precision":0.211},
{"deg":50,"alg":"Fast-Match","i":17,"recall":0.0353,"precision":0.191},
{"deg":50,"alg":"Fast-Match","i":18,"recall":0.0404,"precision":0.172},
{"deg":50,"alg":"Fast-Match","i":19,"recall":0.0455,"precision":0.156},
{"deg":50,"alg":"Fast-Match","i":20,"recall":0.0506,"precision":0.144},
{"deg":50,"alg":"Fast-Match","i":21,"recall":0.058,"precision":0.123},
{"deg":50,"alg":"Ratio-Match","i":0,"recall":0,"precision":0},
{"deg":50,"alg":"Ratio-Match","i":1,"recall":0.0001,"precision":0.172},
{"deg":50,"alg":"Ratio-Match","i":2,"recall":0.0005,"precision":0.288},
{"deg":50,"alg":"Ratio-Match","i":3,"recall":0.0019,"precision":0.294},
{"deg":50,"alg":"Ratio-Match","i":4,"recall":0.0041,"precision":0.292},
{"deg":50,"alg":"Ratio-Match","i":5,"recall":0.0066,"precision":0.285},
{"deg":50,"alg":"Ratio-Match","i":6,"recall":0.0088,"precision":0.269},
{"deg":50,"alg":"Ratio-Match","i":7,"recall":0.0108,"precision":0.234},
{"deg":50,"alg":"Ratio-Match","i":8,"recall":0.013,"precision":0.207},
{"deg":50,"alg":"Ratio-Match","i":9,"recall":0.0156,"precision":0.181},
{"deg":50,"alg":"Ratio-Match","i":10,"recall":0.0187,"precision":0.156},
{"deg":50,"alg":"Ratio-Match","i":11,"recall":0.0232,"precision":0.133},
{"deg":50,"alg":"Ratio-Match","i":12,"recall":0.0277,"precision":0.113},
{"deg":50,"alg":"Ratio-Match","i":13,"recall":0.0328,"precision":0.099},
{"deg":50,"alg":"Ratio-Match","i":14,"recall":0.0391,"precision":0.084},
{"deg":50,"alg":"Ratio-Match","i":15,"recall":0.0455,"precision":0.074},
{"deg":50,"alg":"Ratio-Match","i":16,"recall":0.0532,"precision":0.064},
{"deg":50,"alg":"Ratio-Match","i":17,"recall":0.0627,"precision":0.055},
{"deg":50,"alg":"Mirror-Match","i":0,"recall":0,"precision":0},
{"deg":50,"alg":"Mirror-Match","i":1,"recall":0.0001,"precision":0.211},
{"deg":50,"alg":"Mirror-Match","i":2,"recall":0.0006,"precision":0.318},
{"deg":50,"alg":"Mirror-Match","i":3,"recall":0.0019,"precision":0.331},
{"deg":50,"alg":"Mirror-Match","i":4,"recall":0.0037,"precision":0.351},
{"deg":50,"alg":"Mirror-Match","i":5,"recall":0.0054,"precision":0.347},
{"deg":50,"alg":"Mirror-Match","i":6,"recall":0.0073,"precision":0.324},
{"deg":50,"alg":"Mirror-Match","i":7,"recall":0.0092,"precision":0.279},
{"deg":50,"alg":"Mirror-Match","i":8,"recall":0.0111,"precision":0.234},
{"deg":50,"alg":"Mirror-Match","i":9,"recall":0.0136,"precision":0.201},
{"deg":50,"alg":"Mirror-Match","i":10,"recall":0.0168,"precision":0.172},
{"deg":50,"alg":"Mirror-Match","i":11,"recall":0.0207,"precision":0.142},
{"deg":50,"alg":"Mirror-Match","i":12,"recall":0.0251,"precision":0.119},
{"deg":50,"alg":"Mirror-Match","i":13,"recall":0.0302,"precision":0.099},
{"deg":50,"alg":"Mirror-Match","i":14,"recall":0.0366,"precision":0.084},
{"deg":50,"alg":"Mirror-Match","i":15,"recall":0.043,"precision":0.072},
{"deg":55,"alg":"Fast-Match","i":0,"recall":0,"precision":0.981},
{"deg":55,"alg":"Fast-Match","i":1,"recall":0.0001,"precision":0.476},
{"deg":55,"alg":"Fast-Match","i":2,"recall":0.0002,"precision":0.62},
{"deg":55,"alg":"Fast-Match","i":3,"recall":0.0004,"precision":0.476},
{"deg":55,"alg":"Fast-Match","i":4,"recall":0.0008,"precision":0.519},
{"deg":55,"alg":"Fast-Match","i":5,"recall":0.0011,"precision":0.488},
{"deg":55,"alg":"Fast-Match","i":6,"recall":0.0024,"precision":0.488},
{"deg":55,"alg":"Fast-Match","i":7,"recall":0.0046,"precision":0.481},
{"deg":55,"alg":"Fast-Match","i":8,"recall":0.0066,"precision":0.464},
{"deg":55,"alg":"Fast-Match","i":9,"recall":0.0084,"precision":0.428},
{"deg":55,"alg":"Fast-Match","i":10,"recall":0.0101,"precision":0.385},
{"deg":55,"alg":"Fast-Match","i":11,"recall":0.0123,"precision":0.344},
{"deg":55,"alg":"Fast-Match","i":12,"recall":0.0145,"precision":0.3},
{"deg":55,"alg":"Fast-Match","i":13,"recall":0.0172,"precision":0.264},
{"deg":55,"alg":"Fast-Match","i":14,"recall":0.02,"precision":0.224},
{"deg":55,"alg":"Fast-Match","i":15,"recall":0.0233,"precision":0.197},
{"deg":55,"alg":"Fast-Match","i":16,"recall":0.0271,"precision":0.178},
{"deg":55,"alg":"Fast-Match","i":17,"recall":0.0309,"precision":0.163},
{"deg":55,"alg":"Fast-Match","i":18,"recall":0.0353,"precision":0.147},
{"deg":55,"alg":"Fast-Match","i":19,"recall":0.0403,"precision":0.132},
{"deg":55,"alg":"Ratio-Match","i":0,"recall":0,"precision":0},
{"deg":55,"alg":"Ratio-Match","i":1,"recall":0.0001,"precision":0.163},
{"deg":55,"alg":"Ratio-Match","i":2,"recall":0.0003,"precision":0.284},
{"deg":55,"alg":"Ratio-Match","i":3,"recall":0.0008,"precision":0.356},
{"deg":55,"alg":"Ratio-Match","i":4,"recall":0.0016,"precision":0.392},
{"deg":55,"alg":"Ratio-Match","i":5,"recall":0.003,"precision":0.38},
{"deg":55,"alg":"Ratio-Match","i":6,"recall":0.0048,"precision":0.339},
{"deg":55,"alg":"Ratio-Match","i":7,"recall":0.007,"precision":0.291},
{"deg":55,"alg":"Ratio-Match","i":8,"recall":0.0095,"precision":0.248},
{"deg":55,"alg":"Ratio-Match","i":9,"recall":0.0125,"precision":0.212},
{"deg":55,"alg":"Ratio-Match","i":10,"recall":0.0158,"precision":0.175},
{"deg":55,"alg":"Ratio-Match","i":11,"recall":0.02,"precision":0.139},
{"deg":55,"alg":"Ratio-Match","i":12,"recall":0.0254,"precision":0.108},
{"deg":55,"alg":"Ratio-Match","i":13,"recall":0.0309,"precision":0.091},
{"deg":55,"alg":"Ratio-Match","i":14,"recall":0.0364,"precision":0.079},
{"deg":55,"alg":"Ratio-Match","i":15,"recall":0.0419,"precision":0.067},
{"deg":55,"alg":"Ratio-Match","i":16,"recall":0.0479,"precision":0.06},
{"deg":55,"alg":"Ratio-Match","i":17,"recall":0.0534,"precision":0.055},
{"deg":55,"alg":"Mirror-Match","i":0,"recall":0,"precision":0},
{"deg":55,"alg":"Mirror-Match","i":1,"recall":0.0001,"precision":0.284},
{"deg":55,"alg":"Mirror-Match","i":2,"recall":0.0004,"precision":0.344},
{"deg":55,"alg":"Mirror-Match","i":3,"recall":0.0011,"precision":0.375},
{"deg":55,"alg":"Mirror-Match","i":4,"recall":0.0019,"precision":0.397},
{"deg":55,"alg":"Mirror-Match","i":5,"recall":0.0033,"precision":0.389},
{"deg":55,"alg":"Mirror-Match","i":6,"recall":0.0046,"precision":0.375},
{"deg":55,"alg":"Mirror-Match","i":7,"recall":0.0059,"precision":0.351},
{"deg":55,"alg":"Mirror-Match","i":8,"recall":0.0077,"precision":0.303},
{"deg":55,"alg":"Mirror-Match","i":9,"recall":0.0095,"precision":0.26},
{"deg":55,"alg":"Mirror-Match","i":10,"recall":0.0123,"precision":0.212},
{"deg":55,"alg":"Mirror-Match","i":11,"recall":0.0156,"precision":0.168},
{"deg":55,"alg":"Mirror-Match","i":12,"recall":0.02,"precision":0.127},
{"deg":55,"alg":"Mirror-Match","i":13,"recall":0.0254,"precision":0.101},
{"deg":55,"alg":"Mirror-Match","i":14,"recall":0.0309,"precision":0.084},
{"deg":55,"alg":"Mirror-Match","i":15,"recall":0.0375,"precision":0.067},
{"deg":60,"alg":"Fast-Match","i":0,"recall":0,"precision":0.503},
{"deg":60,"alg":"Fast-Match","i":1,"recall":0.0001,"precision":0.113},
{"deg":60,"alg":"Fast-Match","i":2,"recall":0.0002,"precision":0.23},
{"deg":60,"alg":"Fast-Match","i":3,"recall":0.0005,"precision":0.211},
{"deg":60,"alg":"Fast-Match","i":4,"recall":0.0007,"precision":0.259},
{"deg":60,"alg":"Fast-Match","i":5,"recall":0.0014,"precision":0.292},
{"deg":60,"alg":"Fast-Match","i":6,"recall":0.0023,"precision":0.304},
{"deg":60,"alg":"Fast-Match","i":7,"recall":0.0032,"precision":0.296},
{"deg":60,"alg":"Fast-Match","i":8,"recall":0.0041,"precision":0.304},
{"deg":60,"alg":"Fast-Match","i":9,"recall":0.0052,"precision":0.296},
{"deg":60,"alg":"Fast-Match","i":10,"recall":0.0067,"precision":0.269},
{"deg":60,"alg":"Fast-Match","i":11,"recall":0.0083,"precision":0.24},
{"deg":60,"alg":"Fast-Match","i":12,"recall":0.0101,"precision":0.195},
{"deg":60,"alg":"Fast-Match","i":13,"recall":0.0124,"precision":0.172},
{"deg":60,"alg":"Fast-Match","i":14,"recall":0.0151,"precision":0.152},
{"deg":60,"alg":"Fast-Match","i":15,"recall":0.0183,"precision":0.129},
{"deg":60,"alg":"Fast-Match","i":16,"recall":0.0216,"precision":0.113},
{"deg":60,"alg":"Fast-Match","i":17,"recall":0.0252,"precision":0.103},
{"deg":60,"alg":"Fast-Match","i":18,"recall":0.0307,"precision":0.092},
{"deg":60,"alg":"Ratio-Match","i":0,"recall":0,"precision":0},
{"deg":60,"alg":"Ratio-Match","i":1,"recall":0.0001,"precision":0.094},
{"deg":60,"alg":"Ratio-Match","i":2,"recall":0.0005,"precision":0.191},
{"deg":60,"alg":"Ratio-Match","i":3,"recall":0.0012,"precision":0.23},
{"deg":60,"alg":"Ratio-Match","i":4,"recall":0.0023,"precision":0.246},
{"deg":60,"alg":"Ratio-Match","i":5,"recall":0.0034,"precision":0.24},
{"deg":60,"alg":"Ratio-Match","i":6,"recall":0.0047,"precision":0.214},
{"deg":60,"alg":"Ratio-Match","i":7,"recall":0.0061,"precision":0.187},
{"deg":60,"alg":"Ratio-Match","i":8,"recall":0.008,"precision":0.16},
{"deg":60,"alg":"Ratio-Match","i":9,"recall":0.0106,"precision":0.133},
{"deg":60,"alg":"Ratio-Match","i":10,"recall":0.0142,"precision":0.103},
{"deg":60,"alg":"Ratio-Match","i":11,"recall":0.0188,"precision":0.08},
{"deg":60,"alg":"Ratio-Match","i":12,"recall":0.0234,"precision":0.066},
{"deg":60,"alg":"Ratio-Match","i":13,"recall":0.0289,"precision":0.057},
{"deg":60,"alg":"Ratio-Match","i":14,"recall":0.0344,"precision":0.049},
{"deg":60,"alg":"Ratio-Match","i":15,"recall":0.0408,"precision":0.043},
{"deg":60,"alg":"Ratio-Match","i":16,"recall":0.0491,"precision":0.039},
{"deg":60,"alg":"Mirror-Match","i":0,"recall":0,"precision":0},
{"deg":60,"alg":"Mirror-Match","i":1,"recall":0.0001,"precision":0.133},
{"deg":60,"alg":"Mirror-Match","i":2,"recall":0.0005,"precision":0.211},
{"deg":60,"alg":"Mirror-Match","i":3,"recall":0.0012,"precision":0.24},
{"deg":60,"alg":"Mirror-Match","i":4,"recall":0.0023,"precision":0.263},
{"deg":60,"alg":"Mirror-Match","i":5,"recall":0.0034,"precision":0.25},
{"deg":60,"alg":"Mirror-Match","i":6,"recall":0.0046,"precision":0.226},
{"deg":60,"alg":"Mirror-Match","i":7,"recall":0.006,"precision":0.195},
{"deg":60,"alg":"Mirror-Match","i":8,"recall":0.0073,"precision":0.168},
{"deg":60,"alg":"Mirror-Match","i":9,"recall":0.0092,"precision":0.142},
{"deg":60,"alg":"Mirror-Match","i":10,"recall":0.0119,"precision":0.117},
{"deg":60,"alg":"Mirror-Match","i":11,"recall":0.0156,"precision":0.094},
{"deg":60,"alg":"Mirror-Match","i":12,"recall":0.0197,"precision":0.078},
{"deg":60,"alg":"Mirror-Match","i":13,"recall":0.0243,"precision":0.068},
{"deg":60,"alg":"Mirror-Match","i":14,"recall":0.0289,"precision":0.06}
]},
"columns":6,
"spacing":{"row":40,"column":39},
"bounds":"flush",
"concat":[
{"title":"5 degrees","width":182,"height":172,"transform":[{"filter":"datum.deg==5"}],"mark":{"type":"line","strokeWidth":1.3},
"encoding":{
"x":{"field":"recall","type":"quantitative","scale":{"domain":[0,0.6],"nice":false},"axis":{"title":null,"values":[0,0.05,0.1,0.15,0.2,0.25,0.3,0.35,0.4,0.45,0.5,0.55,0.6],"labelExpr":"abs(datum.value*10-round(datum.value*10))<0.01 ? format(datum.value,'.1f') : ''","tickOpacity":{"condition":{"test":"abs(datum.value*10-round(datum.value*10))<0.01","value":1},"value":0},"gridColor":{"condition":{"test":"abs(datum.value*10-round(datum.value*10))<0.01","value":"#ffffff"},"value":"#f3f3f3"},"gridWidth":{"condition":{"test":"abs(datum.value*10-round(datum.value*10))<0.01","value":1.6},"value":0.8}}},
"y":{"field":"precision","type":"quantitative","scale":{"domain":[0,1],"nice":false},"axis":{"title":"precision","values":[0,0.25,0.5,0.75,1],"labelExpr":"abs(datum.value*2-round(datum.value*2))<0.01 ? format(datum.value,'.1f') : ''","tickOpacity":{"condition":{"test":"abs(datum.value*2-round(datum.value*2))<0.01","value":1},"value":0},"gridColor":{"condition":{"test":"abs(datum.value*2-round(datum.value*2))<0.01","value":"#ffffff"},"value":"#f3f3f3"},"gridWidth":{"condition":{"test":"abs(datum.value*2-round(datum.value*2))<0.01","value":1.6},"value":0.8}}},
"color":{"field":"alg","type":"nominal","scale":{"domain":["Fast-Match","Ratio-Match","Mirror-Match"],"range":["#1b9e77","#7570b3","#d95f02"]},"legend":{"title":"Algorithm","orient":"none","legendX":340,"legendY":-43,"direction":"horizontal"}},
"strokeDash":{"field":"alg","type":"nominal","scale":{"domain":["Fast-Match","Ratio-Match","Mirror-Match"],"range":[[1,0],[4,3,1,3],[6,4]]},"legend":{"title":"Algorithm","orient":"none","legendX":340,"legendY":-43,"direction":"horizontal"}},
"order":{"field":"i","type":"quantitative"}}},
{"title":"10 degrees","width":182,"height":172,"transform":[{"filter":"datum.deg==10"}],"mark":{"type":"line","strokeWidth":1.3},
"encoding":{
"x":{"field":"recall","type":"quantitative","scale":{"domain":[0,0.4],"nice":false},"axis":{"title":null,"values":[0,0.025,0.05,0.075,0.1,0.125,0.15,0.175,0.2,0.225,0.25,0.275,0.3,0.325,0.35,0.375,0.4],"labelExpr":"abs(datum.value*10-round(datum.value*10))<0.01 ? format(datum.value,'.1f') : ''","tickOpacity":{"condition":{"test":"abs(datum.value*10-round(datum.value*10))<0.01","value":1},"value":0},"gridColor":{"condition":{"test":"abs(datum.value*20-round(datum.value*20))<0.01","value":"#ffffff"},"value":"#f3f3f3"},"gridWidth":{"condition":{"test":"abs(datum.value*20-round(datum.value*20))<0.01","value":1.6},"value":0.8}}},
"y":{"field":"precision","type":"quantitative","scale":{"domain":[0,1],"nice":false},"axis":{"title":null,"values":[0,0.25,0.5,0.75,1],"labelExpr":"abs(datum.value*2-round(datum.value*2))<0.01 ? format(datum.value,'.1f') : ''","tickOpacity":{"condition":{"test":"abs(datum.value*2-round(datum.value*2))<0.01","value":1},"value":0},"gridColor":{"condition":{"test":"abs(datum.value*2-round(datum.value*2))<0.01","value":"#ffffff"},"value":"#f3f3f3"},"gridWidth":{"condition":{"test":"abs(datum.value*2-round(datum.value*2))<0.01","value":1.6},"value":0.8}}},
"color":{"field":"alg","type":"nominal","scale":{"domain":["Fast-Match","Ratio-Match","Mirror-Match"],"range":["#1b9e77","#7570b3","#d95f02"]},"legend":{"title":"Algorithm","orient":"none","legendX":340,"legendY":-43,"direction":"horizontal"}},
"strokeDash":{"field":"alg","type":"nominal","scale":{"domain":["Fast-Match","Ratio-Match","Mirror-Match"],"range":[[1,0],[4,3,1,3],[6,4]]},"legend":{"title":"Algorithm","orient":"none","legendX":340,"legendY":-43,"direction":"horizontal"}},
"order":{"field":"i","type":"quantitative"}}},
{"title":"15 degrees","width":182,"height":172,"transform":[{"filter":"datum.deg==15"}],"mark":{"type":"line","strokeWidth":1.3},
"encoding":{
"x":{"field":"recall","type":"quantitative","scale":{"domain":[0,0.3],"nice":false},"axis":{"title":null,"values":[0,0.025,0.05,0.075,0.1,0.125,0.15,0.175,0.2,0.225,0.25,0.275,0.3],"labelExpr":"abs(datum.value*20-round(datum.value*20))<0.01 ? format(datum.value,'.2f') : ''","tickOpacity":{"condition":{"test":"abs(datum.value*20-round(datum.value*20))<0.01","value":1},"value":0},"gridColor":{"condition":{"test":"abs(datum.value*20-round(datum.value*20))<0.01","value":"#ffffff"},"value":"#f3f3f3"},"gridWidth":{"condition":{"test":"abs(datum.value*20-round(datum.value*20))<0.01","value":1.6},"value":0.8}}},
"y":{"field":"precision","type":"quantitative","scale":{"domain":[0,1],"nice":false},"axis":{"title":null,"values":[0,0.25,0.5,0.75,1],"labelExpr":"abs(datum.value*2-round(datum.value*2))<0.01 ? format(datum.value,'.1f') : ''","tickOpacity":{"condition":{"test":"abs(datum.value*2-round(datum.value*2))<0.01","value":1},"value":0},"gridColor":{"condition":{"test":"abs(datum.value*2-round(datum.value*2))<0.01","value":"#ffffff"},"value":"#f3f3f3"},"gridWidth":{"condition":{"test":"abs(datum.value*2-round(datum.value*2))<0.01","value":1.6},"value":0.8}}},
"color":{"field":"alg","type":"nominal","scale":{"domain":["Fast-Match","Ratio-Match","Mirror-Match"],"range":["#1b9e77","#7570b3","#d95f02"]},"legend":{"title":"Algorithm","orient":"none","legendX":340,"legendY":-43,"direction":"horizontal"}},
"strokeDash":{"field":"alg","type":"nominal","scale":{"domain":["Fast-Match","Ratio-Match","Mirror-Match"],"range":[[1,0],[4,3,1,3],[6,4]]},"legend":{"title":"Algorithm","orient":"none","legendX":340,"legendY":-43,"direction":"horizontal"}},
"order":{"field":"i","type":"quantitative"}}},
{"title":"20 degrees","width":182,"height":172,"transform":[{"filter":"datum.deg==20"}],"mark":{"type":"line","strokeWidth":1.3},
"encoding":{
"x":{"field":"recall","type":"quantitative","scale":{"domain":[0,0.25],"nice":false},"axis":{"title":null,"values":[0,0.025,0.05,0.075,0.1,0.125,0.15,0.175,0.2,0.225,0.25],"labelExpr":"abs(datum.value*20-round(datum.value*20))<0.01 ? format(datum.value,'.2f') : ''","tickOpacity":{"condition":{"test":"abs(datum.value*20-round(datum.value*20))<0.01","value":1},"value":0},"gridColor":{"condition":{"test":"abs(datum.value*20-round(datum.value*20))<0.01","value":"#ffffff"},"value":"#f3f3f3"},"gridWidth":{"condition":{"test":"abs(datum.value*20-round(datum.value*20))<0.01","value":1.6},"value":0.8}}},
"y":{"field":"precision","type":"quantitative","scale":{"domain":[0,1],"nice":false},"axis":{"title":null,"values":[0,0.25,0.5,0.75,1],"labelExpr":"abs(datum.value*2-round(datum.value*2))<0.01 ? format(datum.value,'.1f') : ''","tickOpacity":{"condition":{"test":"abs(datum.value*2-round(datum.value*2))<0.01","value":1},"value":0},"gridColor":{"condition":{"test":"abs(datum.value*2-round(datum.value*2))<0.01","value":"#ffffff"},"value":"#f3f3f3"},"gridWidth":{"condition":{"test":"abs(datum.value*2-round(datum.value*2))<0.01","value":1.6},"value":0.8}}},
"color":{"field":"alg","type":"nominal","scale":{"domain":["Fast-Match","Ratio-Match","Mirror-Match"],"range":["#1b9e77","#7570b3","#d95f02"]},"legend":{"title":"Algorithm","orient":"none","legendX":340,"legendY":-43,"direction":"horizontal"}},
"strokeDash":{"field":"alg","type":"nominal","scale":{"domain":["Fast-Match","Ratio-Match","Mirror-Match"],"range":[[1,0],[4,3,1,3],[6,4]]},"legend":{"title":"Algorithm","orient":"none","legendX":340,"legendY":-43,"direction":"horizontal"}},
"order":{"field":"i","type":"quantitative"}}},
{"title":"25 degrees","width":182,"height":172,"transform":[{"filter":"datum.deg==25"}],"mark":{"type":"line","strokeWidth":1.3},
"encoding":{
"x":{"field":"recall","type":"quantitative","scale":{"domain":[0,0.2],"nice":false},"axis":{"title":null,"values":[0,0.025,0.05,0.075,0.1,0.125,0.15,0.175,0.2],"labelExpr":"abs(datum.value*20-round(datum.value*20))<0.01 ? format(datum.value,'.2f') : ''","tickOpacity":{"condition":{"test":"abs(datum.value*20-round(datum.value*20))<0.01","value":1},"value":0},"gridColor":{"condition":{"test":"abs(datum.value*20-round(datum.value*20))<0.01","value":"#ffffff"},"value":"#f3f3f3"},"gridWidth":{"condition":{"test":"abs(datum.value*20-round(datum.value*20))<0.01","value":1.6},"value":0.8}}},
"y":{"field":"precision","type":"quantitative","scale":{"domain":[0,1],"nice":false},"axis":{"title":null,"values":[0,0.25,0.5,0.75,1],"labelExpr":"abs(datum.value*2-round(datum.value*2))<0.01 ? format(datum.value,'.1f') : ''","tickOpacity":{"condition":{"test":"abs(datum.value*2-round(datum.value*2))<0.01","value":1},"value":0},"gridColor":{"condition":{"test":"abs(datum.value*2-round(datum.value*2))<0.01","value":"#ffffff"},"value":"#f3f3f3"},"gridWidth":{"condition":{"test":"abs(datum.value*2-round(datum.value*2))<0.01","value":1.6},"value":0.8}}},
"color":{"field":"alg","type":"nominal","scale":{"domain":["Fast-Match","Ratio-Match","Mirror-Match"],"range":["#1b9e77","#7570b3","#d95f02"]},"legend":{"title":"Algorithm","orient":"none","legendX":340,"legendY":-43,"direction":"horizontal"}},
"strokeDash":{"field":"alg","type":"nominal","scale":{"domain":["Fast-Match","Ratio-Match","Mirror-Match"],"range":[[1,0],[4,3,1,3],[6,4]]},"legend":{"title":"Algorithm","orient":"none","legendX":340,"legendY":-43,"direction":"horizontal"}},
"order":{"field":"i","type":"quantitative"}}},
{"title":"30 degrees","width":182,"height":172,"transform":[{"filter":"datum.deg==30"}],"mark":{"type":"line","strokeWidth":1.3},
"encoding":{
"x":{"field":"recall","type":"quantitative","scale":{"domain":[0,0.16],"nice":false},"axis":{"title":null,"values":[0,0.01,0.02,0.03,0.04,0.05,0.06,0.07,0.08,0.09,0.1,0.11,0.12,0.13,0.14,0.15,0.16],"labelExpr":"abs(datum.value*25-round(datum.value*25))<0.01 ? format(datum.value,'.2f') : ''","tickOpacity":{"condition":{"test":"abs(datum.value*25-round(datum.value*25))<0.01","value":1},"value":0},"gridColor":{"condition":{"test":"abs(datum.value*50-round(datum.value*50))<0.01","value":"#ffffff"},"value":"#f3f3f3"},"gridWidth":{"condition":{"test":"abs(datum.value*50-round(datum.value*50))<0.01","value":1.6},"value":0.8}}},
"y":{"field":"precision","type":"quantitative","scale":{"domain":[0,1],"nice":false},"axis":{"title":null,"values":[0,0.25,0.5,0.75,1],"labelExpr":"abs(datum.value*2-round(datum.value*2))<0.01 ? format(datum.value,'.1f') : ''","tickOpacity":{"condition":{"test":"abs(datum.value*2-round(datum.value*2))<0.01","value":1},"value":0},"gridColor":{"condition":{"test":"abs(datum.value*2-round(datum.value*2))<0.01","value":"#ffffff"},"value":"#f3f3f3"},"gridWidth":{"condition":{"test":"abs(datum.value*2-round(datum.value*2))<0.01","value":1.6},"value":0.8}}},
"color":{"field":"alg","type":"nominal","scale":{"domain":["Fast-Match","Ratio-Match","Mirror-Match"],"range":["#1b9e77","#7570b3","#d95f02"]},"legend":{"title":"Algorithm","orient":"none","legendX":340,"legendY":-43,"direction":"horizontal"}},
"strokeDash":{"field":"alg","type":"nominal","scale":{"domain":["Fast-Match","Ratio-Match","Mirror-Match"],"range":[[1,0],[4,3,1,3],[6,4]]},"legend":{"title":"Algorithm","orient":"none","legendX":340,"legendY":-43,"direction":"horizontal"}},
"order":{"field":"i","type":"quantitative"}}},
{"title":"35 degrees","width":182,"height":172,"transform":[{"filter":"datum.deg==35"}],"mark":{"type":"line","strokeWidth":1.3},
"encoding":{
"x":{"field":"recall","type":"quantitative","scale":{"domain":[0,0.14],"nice":false},"axis":{"title":"recall","values":[0,0.01,0.02,0.03,0.04,0.05,0.06,0.07,0.08,0.09,0.1,0.11,0.12,0.13,0.14],"labelExpr":"abs(datum.value*50-round(datum.value*50))<0.01 ? format(datum.value,'.2f') : ''","tickOpacity":{"condition":{"test":"abs(datum.value*50-round(datum.value*50))<0.01","value":1},"value":0},"gridColor":{"condition":{"test":"abs(datum.value*50-round(datum.value*50))<0.01","value":"#ffffff"},"value":"#f3f3f3"},"gridWidth":{"condition":{"test":"abs(datum.value*50-round(datum.value*50))<0.01","value":1.6},"value":0.8}}},
"y":{"field":"precision","type":"quantitative","scale":{"domain":[0,1],"nice":false},"axis":{"title":"precision","values":[0,0.25,0.5,0.75,1],"labelExpr":"abs(datum.value*2-round(datum.value*2))<0.01 ? format(datum.value,'.1f') : ''","tickOpacity":{"condition":{"test":"abs(datum.value*2-round(datum.value*2))<0.01","value":1},"value":0},"gridColor":{"condition":{"test":"abs(datum.value*2-round(datum.value*2))<0.01","value":"#ffffff"},"value":"#f3f3f3"},"gridWidth":{"condition":{"test":"abs(datum.value*2-round(datum.value*2))<0.01","value":1.6},"value":0.8}}},
"color":{"field":"alg","type":"nominal","scale":{"domain":["Fast-Match","Ratio-Match","Mirror-Match"],"range":["#1b9e77","#7570b3","#d95f02"]},"legend":{"title":"Algorithm","orient":"none","legendX":340,"legendY":-43,"direction":"horizontal"}},
"strokeDash":{"field":"alg","type":"nominal","scale":{"domain":["Fast-Match","Ratio-Match","Mirror-Match"],"range":[[1,0],[4,3,1,3],[6,4]]},"legend":{"title":"Algorithm","orient":"none","legendX":340,"legendY":-43,"direction":"horizontal"}},
"order":{"field":"i","type":"quantitative"}}},
{"title":"40 degrees","width":182,"height":172,"transform":[{"filter":"datum.deg==40"}],"mark":{"type":"line","strokeWidth":1.3},
"encoding":{
"x":{"field":"recall","type":"quantitative","scale":{"domain":[0,0.12],"nice":false},"axis":{"title":"recall","values":[0,0.01,0.02,0.03,0.04,0.05,0.06,0.07,0.08,0.09,0.1,0.11,0.12],"labelExpr":"abs(datum.value*50-round(datum.value*50))<0.01 ? format(datum.value,'.2f') : ''","tickOpacity":{"condition":{"test":"abs(datum.value*50-round(datum.value*50))<0.01","value":1},"value":0},"gridColor":{"condition":{"test":"abs(datum.value*50-round(datum.value*50))<0.01","value":"#ffffff"},"value":"#f3f3f3"},"gridWidth":{"condition":{"test":"abs(datum.value*50-round(datum.value*50))<0.01","value":1.6},"value":0.8}}},
"y":{"field":"precision","type":"quantitative","scale":{"domain":[0,1],"nice":false},"axis":{"title":null,"values":[0,0.25,0.5,0.75,1],"labelExpr":"abs(datum.value*2-round(datum.value*2))<0.01 ? format(datum.value,'.1f') : ''","tickOpacity":{"condition":{"test":"abs(datum.value*2-round(datum.value*2))<0.01","value":1},"value":0},"gridColor":{"condition":{"test":"abs(datum.value*2-round(datum.value*2))<0.01","value":"#ffffff"},"value":"#f3f3f3"},"gridWidth":{"condition":{"test":"abs(datum.value*2-round(datum.value*2))<0.01","value":1.6},"value":0.8}}},
"color":{"field":"alg","type":"nominal","scale":{"domain":["Fast-Match","Ratio-Match","Mirror-Match"],"range":["#1b9e77","#7570b3","#d95f02"]},"legend":{"title":"Algorithm","orient":"none","legendX":340,"legendY":-43,"direction":"horizontal"}},
"strokeDash":{"field":"alg","type":"nominal","scale":{"domain":["Fast-Match","Ratio-Match","Mirror-Match"],"range":[[1,0],[4,3,1,3],[6,4]]},"legend":{"title":"Algorithm","orient":"none","legendX":340,"legendY":-43,"direction":"horizontal"}},
"order":{"field":"i","type":"quantitative"}}},
{"title":"45 degrees","width":182,"height":172,"transform":[{"filter":"datum.deg==45"}],"mark":{"type":"line","strokeWidth":1.3},
"encoding":{
"x":{"field":"recall","type":"quantitative","scale":{"domain":[0,0.08],"nice":false},"axis":{"title":"recall","values":[0,0.01,0.02,0.03,0.04,0.05,0.06,0.07,0.08],"labelExpr":"abs(datum.value*50-round(datum.value*50))<0.01 ? format(datum.value,'.2f') : ''","tickOpacity":{"condition":{"test":"abs(datum.value*50-round(datum.value*50))<0.01","value":1},"value":0},"gridColor":{"condition":{"test":"abs(datum.value*50-round(datum.value*50))<0.01","value":"#ffffff"},"value":"#f3f3f3"},"gridWidth":{"condition":{"test":"abs(datum.value*50-round(datum.value*50))<0.01","value":1.6},"value":0.8}}},
"y":{"field":"precision","type":"quantitative","scale":{"domain":[0,1],"nice":false},"axis":{"title":null,"values":[0,0.25,0.5,0.75,1],"labelExpr":"abs(datum.value*2-round(datum.value*2))<0.01 ? format(datum.value,'.1f') : ''","tickOpacity":{"condition":{"test":"abs(datum.value*2-round(datum.value*2))<0.01","value":1},"value":0},"gridColor":{"condition":{"test":"abs(datum.value*2-round(datum.value*2))<0.01","value":"#ffffff"},"value":"#f3f3f3"},"gridWidth":{"condition":{"test":"abs(datum.value*2-round(datum.value*2))<0.01","value":1.6},"value":0.8}}},
"color":{"field":"alg","type":"nominal","scale":{"domain":["Fast-Match","Ratio-Match","Mirror-Match"],"range":["#1b9e77","#7570b3","#d95f02"]},"legend":{"title":"Algorithm","orient":"none","legendX":340,"legendY":-43,"direction":"horizontal"}},
"strokeDash":{"field":"alg","type":"nominal","scale":{"domain":["Fast-Match","Ratio-Match","Mirror-Match"],"range":[[1,0],[4,3,1,3],[6,4]]},"legend":{"title":"Algorithm","orient":"none","legendX":340,"legendY":-43,"direction":"horizontal"}},
"order":{"field":"i","type":"quantitative"}}},
{"title":"50 degrees","width":182,"height":172,"transform":[{"filter":"datum.deg==50"}],"mark":{"type":"line","strokeWidth":1.3},
"encoding":{
"x":{"field":"recall","type":"quantitative","scale":{"domain":[0,0.07],"nice":false},"axis":{"title":"recall","values":[0,0.005,0.01,0.015,0.02,0.025,0.03,0.035,0.04,0.045,0.05,0.055,0.06,0.065,0.07],"labelExpr":"abs(datum.value*100-round(datum.value*100))<0.01 ? format(datum.value,'.2f') : ''","tickOpacity":{"condition":{"test":"abs(datum.value*100-round(datum.value*100))<0.01","value":1},"value":0},"gridColor":{"condition":{"test":"abs(datum.value*100-round(datum.value*100))<0.01","value":"#ffffff"},"value":"#f3f3f3"},"gridWidth":{"condition":{"test":"abs(datum.value*100-round(datum.value*100))<0.01","value":1.6},"value":0.8}}},
"y":{"field":"precision","type":"quantitative","scale":{"domain":[0,1],"nice":false},"axis":{"title":null,"values":[0,0.25,0.5,0.75,1],"labelExpr":"abs(datum.value*2-round(datum.value*2))<0.01 ? format(datum.value,'.1f') : ''","tickOpacity":{"condition":{"test":"abs(datum.value*2-round(datum.value*2))<0.01","value":1},"value":0},"gridColor":{"condition":{"test":"abs(datum.value*2-round(datum.value*2))<0.01","value":"#ffffff"},"value":"#f3f3f3"},"gridWidth":{"condition":{"test":"abs(datum.value*2-round(datum.value*2))<0.01","value":1.6},"value":0.8}}},
"color":{"field":"alg","type":"nominal","scale":{"domain":["Fast-Match","Ratio-Match","Mirror-Match"],"range":["#1b9e77","#7570b3","#d95f02"]},"legend":{"title":"Algorithm","orient":"none","legendX":340,"legendY":-43,"direction":"horizontal"}},
"strokeDash":{"field":"alg","type":"nominal","scale":{"domain":["Fast-Match","Ratio-Match","Mirror-Match"],"range":[[1,0],[4,3,1,3],[6,4]]},"legend":{"title":"Algorithm","orient":"none","legendX":340,"legendY":-43,"direction":"horizontal"}},
"order":{"field":"i","type":"quantitative"}}},
{"title":"55 degrees","width":182,"height":172,"transform":[{"filter":"datum.deg==55"}],"mark":{"type":"line","strokeWidth":1.3},
"encoding":{
"x":{"field":"recall","type":"quantitative","scale":{"domain":[0,0.06],"nice":false},"axis":{"title":"recall","values":[0,0.005,0.01,0.015,0.02,0.025,0.03,0.035,0.04,0.045,0.05,0.055,0.06],"labelExpr":"abs(datum.value*100-round(datum.value*100))<0.01 ? format(datum.value,'.2f') : ''","tickOpacity":{"condition":{"test":"abs(datum.value*100-round(datum.value*100))<0.01","value":1},"value":0},"gridColor":{"condition":{"test":"abs(datum.value*100-round(datum.value*100))<0.01","value":"#ffffff"},"value":"#f3f3f3"},"gridWidth":{"condition":{"test":"abs(datum.value*100-round(datum.value*100))<0.01","value":1.6},"value":0.8}}},
"y":{"field":"precision","type":"quantitative","scale":{"domain":[0,1.233],"nice":false},"axis":{"title":null,"values":[0,0.3083,0.5,0.6166,0.925,1,1.233],"labelExpr":"abs(datum.value*2-round(datum.value*2))<0.01 ? format(datum.value,'.1f') : (datum.value>1.2 ? '.' : '')","labelOpacity":{"condition":{"test":"datum.value>1.2","value":0},"value":1},"tickOpacity":{"condition":{"test":"abs(datum.value*2-round(datum.value*2))<0.01","value":1},"value":0},"gridOpacity":{"condition":{"test":"abs(datum.value*2-round(datum.value*2))<0.01 || datum.value>1.2","value":0},"value":1},"gridColor":{"condition":{"test":"abs(datum.value-0.6166)<0.001","value":"#ffffff"},"value":"#f3f3f3"},"gridWidth":{"condition":{"test":"abs(datum.value-0.6166)<0.001","value":1.6},"value":0.8}}},
"color":{"field":"alg","type":"nominal","scale":{"domain":["Fast-Match","Ratio-Match","Mirror-Match"],"range":["#1b9e77","#7570b3","#d95f02"]},"legend":{"title":"Algorithm","orient":"none","legendX":340,"legendY":-43,"direction":"horizontal"}},
"strokeDash":{"field":"alg","type":"nominal","scale":{"domain":["Fast-Match","Ratio-Match","Mirror-Match"],"range":[[1,0],[4,3,1,3],[6,4]]},"legend":{"title":"Algorithm","orient":"none","legendX":340,"legendY":-43,"direction":"horizontal"}},
"order":{"field":"i","type":"quantitative"}}},
{"title":"60 degrees","width":182,"height":172,"transform":[{"filter":"datum.deg==60"}],"mark":{"type":"line","strokeWidth":1.3},
"encoding":{
"x":{"field":"recall","type":"quantitative","scale":{"domain":[0,0.05],"nice":false},"axis":{"title":"recall","values":[0,0.005,0.01,0.015,0.02,0.025,0.03,0.035,0.04,0.045,0.05],"labelExpr":"abs(datum.value*100-round(datum.value*100))<0.01 ? format(datum.value,'.2f') : ''","tickOpacity":{"condition":{"test":"abs(datum.value*100-round(datum.value*100))<0.01","value":1},"value":0},"gridColor":{"condition":{"test":"abs(datum.value*100-round(datum.value*100))<0.01","value":"#ffffff"},"value":"#f3f3f3"},"gridWidth":{"condition":{"test":"abs(datum.value*100-round(datum.value*100))<0.01","value":1.6},"value":0.8}}},
"y":{"field":"precision","type":"quantitative","scale":{"domain":[0,1],"nice":false},"axis":{"title":null,"values":[0,0.25,0.5,0.75,1],"labelExpr":"abs(datum.value*2-round(datum.value*2))<0.01 ? format(datum.value,'.1f') : ''","tickOpacity":{"condition":{"test":"abs(datum.value*2-round(datum.value*2))<0.01","value":1},"value":0},"gridColor":{"condition":{"test":"abs(datum.value*2-round(datum.value*2))<0.01","value":"#ffffff"},"value":"#f3f3f3"},"gridWidth":{"condition":{"test":"abs(datum.value*2-round(datum.value*2))<0.01","value":1.6},"value":0.8}}},
"color":{"field":"alg","type":"nominal","scale":{"domain":["Fast-Match","Ratio-Match","Mirror-Match"],"range":["#1b9e77","#7570b3","#d95f02"]},"legend":{"title":"Algorithm","orient":"none","legendX":340,"legendY":-43,"direction":"horizontal"}},
"strokeDash":{"field":"alg","type":"nominal","scale":{"domain":["Fast-Match","Ratio-Match","Mirror-Match"],"range":[[1,0],[4,3,1,3],[6,4]]},"legend":{"title":"Algorithm","orient":"none","legendX":340,"legendY":-43,"direction":"horizontal"}},
"order":{"field":"i","type":"quantitative"}}}
],
"config":{
"font":"DejaVu Sans",
"view":{"fill":"#e5e5e5","stroke":null},
"axis":{"domain":false,"grid":true,"labelColor":"#999999","labelFontSize":9.2,"labelPadding":1.5,"labelFlush":false,"labelOverlap":false,"tickColor":"#999999","tickSize":4.5,"titleFontSize":11.8,"titleFontWeight":"normal","titleColor":"#000000"},
"axisY":{"titlePadding":6},
"axisX":{"titlePadding":3},
"title":{"fontSize":10.4,"fontWeight":"normal","color":"#000000","offset":-1.5},
"legend":{"titleOrient":"left","titleAnchor":"end","titleBaseline":"bottom","titleFontSize":14.8,"titleFontWeight":"bold","titleColor":"#000000","titlePadding":48,"labelFontSize":13.5,"labelColor":"#000000","labelOffset":15,"columnPadding":41,"symbolType":"stroke","symbolSize":576,"symbolStrokeWidth":3}
}
}
